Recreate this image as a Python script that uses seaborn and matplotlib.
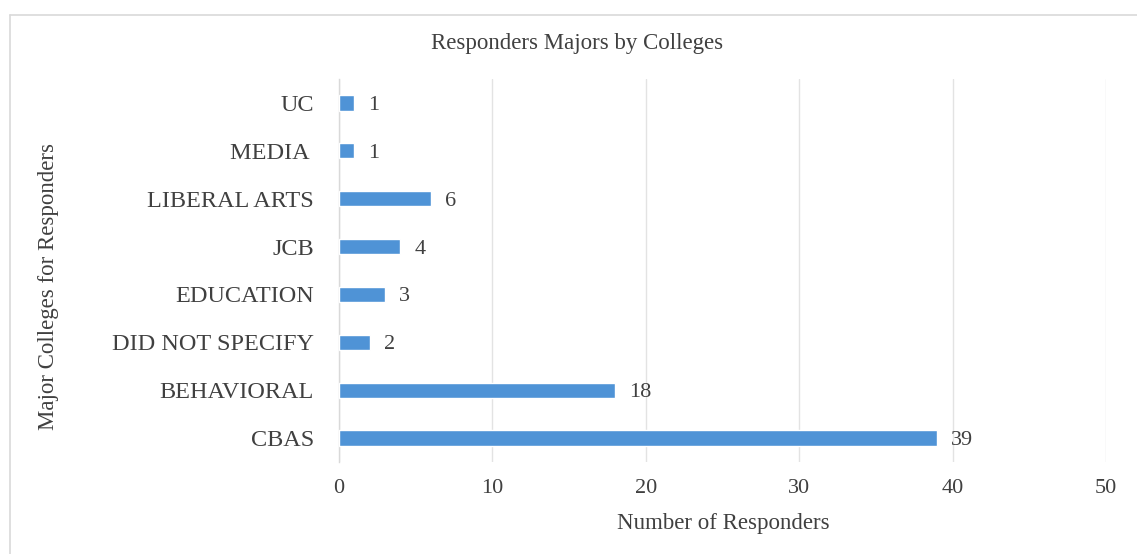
import matplotlib
matplotlib.use("Agg")
import matplotlib.pyplot as plt
import seaborn as sns
import pandas as pd
from matplotlib.lines import Line2D

# Survey counts by college (top to bottom as listed)
colleges = ["UC", "MEDIA ", "LIBERAL ARTS", "JCB", "EDUCATION",
            "DID NOT SPECIFY", "BEHAVIORAL", "CBAS"]
responders = [1, 1, 6, 4, 3, 2, 18, 39]
x_ticks = [0, 10, 20, 30, 40, 50]

df = pd.DataFrame({"college": colleges, "count": responders})

sns.set_theme(style="white")
plt.rcParams["font.family"] = ["Liberation Serif", "DejaVu Serif"]

W, H = 1137, 554
fig = plt.figure(figsize=(W / 100, H / 100), dpi=100)
ax = fig.add_axes([339 / W, 1 - 462 / H, (1106 - 339) / W, (462 - 79) / H])

sns.barplot(data=df, x="count", y="college", orient="h", color="#4F93D6",
            width=0.32, saturation=1, ax=ax, zorder=3)

ax.set_xlim(0, 50)
ax.set_ylim(7.5, -0.5)
ax.set_xticks(x_ticks)
ax.set_xticklabels([str(t) for t in x_ticks])
ax.grid(axis="x", color="#e3e3e3", linewidth=1.0, zorder=0)
ax.grid(axis="y", visible=False)

for side in ["top", "right", "bottom"]:
    ax.spines[side].set_visible(False)
ax.spines["left"].set_color("#d9d9d9")
ax.spines["left"].set_linewidth(1.0)

ax.tick_params(axis="x", length=0, pad=12, labelsize=16, labelcolor="#404040")
ax.tick_params(axis="y", length=0, pad=18, labelsize=17.5, labelcolor="#404040")
ax.set_xlabel("")
ax.set_ylabel("")

for cont in ax.containers:
    texts = ax.bar_label(cont, labels=[str(v) for v in responders], padding=10,
                         fontsize=16, color="#404040")
    for t in texts:
        t.set_va("center_baseline")

fig.text(577 / W, 1 - 43 / H, "Responders Majors by Colleges",
         ha="center", va="center", fontsize=16.5, color="#404040")
fig.text(723 / W, 1 - 523 / H, "Number of Responders",
         ha="center", va="center", fontsize=16.5, color="#404040")
fig.text(49 / W, 1 - 287 / H, "Major Colleges for Responders",
         ha="center", va="center", rotation=90, fontsize=16.5, color="#404040")

# Chart-area frame (left and top edges)
fig.add_artist(Line2D([10 / W, 10 / W], [0, 1 - 15 / H],
                      transform=fig.transFigure, color="#d9d9d9", lw=1.2))
fig.add_artist(Line2D([10 / W, 1], [1 - 15 / H, 1 - 15 / H],
                      transform=fig.transFigure, color="#d9d9d9", lw=1.2))

fig.savefig("out.png", dpi=100, facecolor="white")
